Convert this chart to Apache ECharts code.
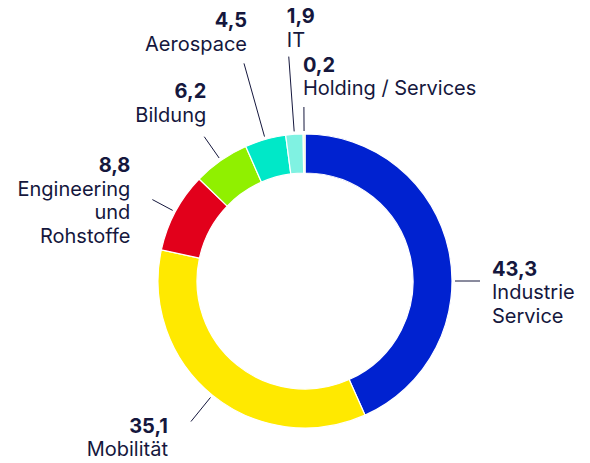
<!DOCTYPE html>
<html>
<head>
<meta charset="utf-8">
<script src="https://cdn.jsdelivr.net/npm/echarts@6/dist/echarts.min.js"></script>
<style>
  html, body { margin: 0; padding: 0; background: #ffffff; }
  #chart-box { width: 590px; height: 463px; }
</style>
</head>
<body>
<div id="chart-box"></div>
<script>
// Daten
const names = ['Industrie\nService', 'Mobilität', 'Engineering\nund\nRohstoffe', 'Bildung', 'Aerospace', 'IT', 'Holding / Services'];
const values = [43.3, 35.1, 8.8, 6.2, 4.5, 1.9, 0.2];
const colors = ['#0022d0', '#ffe900', '#e2001b', '#90f000', '#00e8c8', '#80f2e2', '#eef2a8'];

// Beschriftung: Linienende (Radius), Textversatz, Ausrichtung
const labelCfg = [
  { r2: 175, ang: 90, dx: 12, dy: -24, align: 'left', va: 'top' },
  { r2: 181, dx: -23, dy: -7, align: 'right', va: 'top', lh: 23 },
  { r2: 173, dx: -22, dy: 1, align: 'right', va: 'middle' },
  { r2: 176, dx: 2, dy: -10, align: 'right', va: 'bottom' },
  { r2: 226, dx: 3, dy: -8, align: 'right', va: 'bottom' },
  { r2: 225, dx: -2, dy: -5, align: 'left', va: 'bottom' },
  { r2: 174, dx: -1, dy: -7, align: 'left', va: 'bottom' }
];

const cx = 305, cy = 281, r1 = 150;
const total = values.reduce((a, b) => a + b, 0);

function midAngle(i) {
  let start = 0;
  for (let k = 0; k < i; k++) start += values[k];
  return ((start + values[i] / 2) / total) * 360;
}

const chart = echarts.init(document.getElementById('chart-box'), null, { renderer: 'svg' });

chart.setOption({
  animation: false,
  series: [
    {
      type: 'pie',
      center: [cx, cy],
      radius: [108, 147],
      startAngle: 90,
      clockwise: true,
      avoidLabelOverlap: false,
      itemStyle: { borderColor: '#ffffff', borderWidth: 1.2 },
      label: {
        show: true,
        position: 'outside',
        color: '#15173d',
        fontFamily: 'Inter',
        fontSize: 20,
        lineHeight: 23.5,
        formatter: (p) => '{v|' + p.value.toFixed(1).replace('.', ',') + '}\n' + p.name,
        rich: {
          v: { fontFamily: 'Inter', fontWeight: 'bold', fontSize: 20, color: '#15173d' }
        }
      },
      labelLine: {
        show: true,
        length: 10,
        length2: 0,
        lineStyle: { color: '#15173d', width: 1 }
      },
      labelLayout: (params) => {
        const i = params.dataIndex;
        const c = labelCfg[i];
        const a = ((c.ang != null ? c.ang : midAngle(i)) * Math.PI) / 180;
        const sx = cx + r1 * Math.sin(a), sy = cy - r1 * Math.cos(a);
        const ex = cx + c.r2 * Math.sin(a), ey = cy - c.r2 * Math.cos(a);
        return {
          x: ex + c.dx,
          y: ey + c.dy,
          align: c.align,
          verticalAlign: c.va,
          labelLinePoints: [[sx, sy], [ex, ey], [ex, ey]]
        };
      },
      data: names.map((n, i) => {
        const item = { name: n, value: values[i], itemStyle: { color: colors[i] } };
        if (labelCfg[i].lh) {
          item.label = { lineHeight: labelCfg[i].lh, rich: { v: { lineHeight: labelCfg[i].lh } } };
        }
        return item;
      })
    }
  ]
});
</script>
</body>
</html>
